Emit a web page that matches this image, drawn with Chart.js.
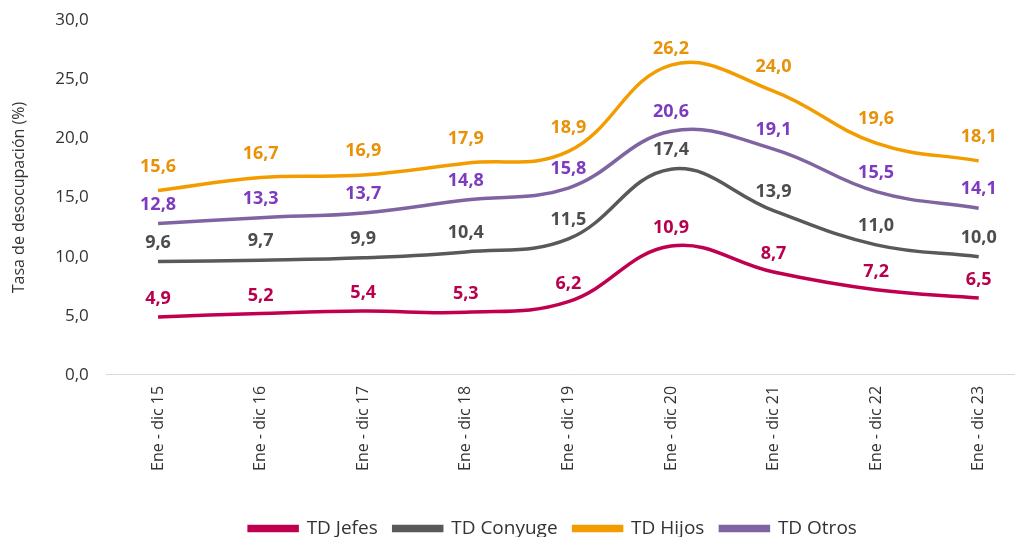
<!DOCTYPE html>
<html>
<head>
<meta charset="utf-8">
<script src="https://cdn.jsdelivr.net/npm/chart.js@4/dist/chart.umd.min.js"></script>
<style>
  html, body { margin: 0; padding: 0; background: #fff; overflow: hidden; }
  #wrap { width: 1106px; height: 545px; margin-top: -8px; }
</style>
</head>
<body>
<div id="wrap"><canvas id="tasaChart"></canvas></div>
<script>
// Tasa de desocupación por parentesco
const categories = ['Ene - dic 15', 'Ene - dic 16', 'Ene - dic 17', 'Ene - dic 18', 'Ene - dic 19',
                    'Ene - dic 20', 'Ene - dic 21', 'Ene - dic 22', 'Ene - dic 23'];
const jefes    = [4.9, 5.2, 5.4, 5.3, 6.2, 10.9, 8.7, 7.2, 6.5];
const conyuge  = [9.6, 9.7, 9.9, 10.4, 11.5, 17.4, 13.9, 11.0, 10.0];
const hijos    = [15.6, 16.7, 16.9, 17.9, 18.9, 26.2, 24.0, 19.6, 18.1];
const otros    = [12.8, 13.3, 13.7, 14.8, 15.8, 20.6, 19.1, 15.5, 14.1];
const yTicks   = [0, 5, 10, 15, 20, 25, 30];

const fmt = v => v.toFixed(1).replace('.', ',');

// etiquetas de valor encima de cada punto
const valueLabels = {
    id: 'valueLabels',
    afterDatasetsDraw(chart) {
        const ctx = chart.ctx;
        const top = chart.chartArea.top;
        ctx.save();
        ctx.font = 'bold 18px "Open Sans", sans-serif';
        ctx.textAlign = 'center';
        ctx.textBaseline = 'middle';
        chart.data.datasets.forEach((ds, i) => {
            const meta = chart.getDatasetMeta(i);
            ctx.fillStyle = ds.labelColor;
            meta.data.forEach((pt, j) => {
                const y = Math.max(pt.y - ds.labelGap, top + 29);
                ctx.fillText(fmt(ds.data[j]), pt.x, y);
            });
        });
        ctx.restore();
    }
};

// leyenda centrada en la imagen y un poco mas abajo
const legendShift = {
    id: 'legendShift',
    afterLayout(chart) {
        const lg = chart.legend;
        lg.left += 33; lg.right += 33;
        lg.top += 21; lg.bottom += 21;
    }
};

const mkSet = (label, data, color, labelColor, gap) => ({
    label: label,
    data: data,
    borderColor: color,
    backgroundColor: color,
    labelColor: labelColor,
    labelGap: gap,
    borderWidth: 3.5,
    tension: 0.4,
    pointRadius: 0,
    fill: false
});

new Chart(document.getElementById('tasaChart').getContext('2d'), {
    type: 'line',
    data: {
        labels: categories,
        datasets: [
            mkSet('TD Jefes', jefes, '#c0004f', '#b8004c', 18),
            mkSet('TD Conyuge', conyuge, '#595959', '#4d4d4d', 19),
            mkSet('TD Hijos', hijos, '#f39c00', '#e8920a', 24),
            mkSet('TD Otros', otros, '#8064a2', '#7d3cc0', 19)
        ]
    },
    options: {
        responsive: true,
        maintainAspectRatio: false,
        animation: false,
        layout: { padding: { left: 10, right: 76, top: 0, bottom: 10 } },
        plugins: {
            legend: {
                position: 'bottom',
                labels: {
                    boxWidth: 48,
                    boxHeight: 4,
                    color: '#333',
                    padding: 16,
                    font: { family: '"Open Sans", sans-serif', size: 19 }
                }
            },
            tooltip: { enabled: false }
        },
        scales: {
            x: {
                offset: true,
                grid: { display: false, drawTicks: false },
                border: { display: true, color: '#d9d9d9', width: 1 },
                ticks: {
                    minRotation: 90,
                    maxRotation: 90,
                    padding: 11,
                    color: '#333',
                    font: { family: '"Open Sans", sans-serif', size: 16 }
                }
            },
            y: {
                min: 0,
                max: 30,
                afterBuildTicks: axis => { axis.ticks = yTicks.map(v => ({ value: v })); },
                grid: { display: false, drawTicks: false },
                border: { display: false },
                ticks: {
                    padding: 18,
                    color: '#333',
                    callback: v => fmt(v),
                    font: { family: '"Open Sans", sans-serif', size: 17 }
                },
                title: {
                    display: true,
                    text: 'Tasa de desocupación (%)',
                    color: '#333',
                    padding: { top: 0, bottom: 8 },
                    font: { family: '"Open Sans", sans-serif', size: 16 }
                }
            }
        }
    },
    plugins: [valueLabels, legendShift]
});
</script>
</body>
</html>
